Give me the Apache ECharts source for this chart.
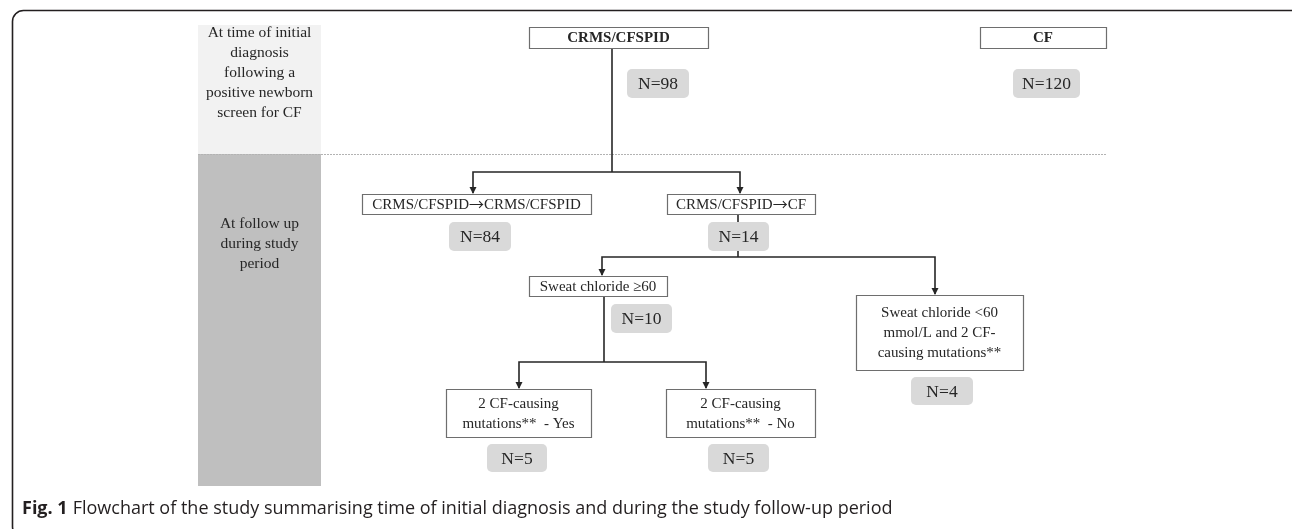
<!DOCTYPE html>
<html><head><meta charset="utf-8">
<script src="https://cdn.jsdelivr.net/npm/echarts@6/dist/echarts.min.js"></script>
<style>html,body{margin:0;padding:0;background:#fff}#c{width:1292px;height:529px}</style>
</head><body><div id="c"></div>
<script>
// ---------------- data ----------------
const phaseLabels = [
  'At time of initial\ndiagnosis\nfollowing a\npositive newborn\nscreen for CF',
  'At follow up\nduring study\nperiod'
];
const nodeLabels = [
  'CRMS/CFSPID',
  'CF',
  'CRMS/CFSPID{a|\u2192}CRMS/CFSPID',
  'CRMS/CFSPID{a|\u2192}CF',
  'Sweat chloride \u226560',
  'Sweat chloride <60\nmmol/L and 2 CF-\ncausing mutations**',
  '2 CF-causing\nmutations**  - Yes',
  '2 CF-causing\nmutations**  - No'
];
const nodeBold = [true, true, false, false, false, false, false, false];
const nodeCounts = [98, 120, 84, 14, 10, 4, 5, 5];
const captionLead = 'Fig. 1';
const captionText = 'Flowchart of the study summarising time of initial diagnosis and during the study follow-up period';

// ---------------- layout (canvas pixel space, 1292 x 529) ----------------
const phaseBoxes = [[198, 25, 321, 154], [198, 154, 321, 486]];
const phaseColors = ['#f2f2f2', '#bfbfbf'];
const phaseTextY = [73, 244];
const nodeBoxes = [
  [529, 27, 708, 48],
  [980, 27, 1106, 48],
  [362, 194, 591, 214],
  [667, 194, 815, 214],
  [529, 276, 667, 296],
  [856, 295, 1023, 370],
  [446, 389, 591, 437],
  [666, 389, 815, 437]
];
const countBoxes = [
  [627, 69, 689, 98],
  [1013, 69, 1080, 98],
  [449, 222, 511, 251],
  [708, 222, 769, 251],
  [611, 304, 672, 333],
  [911, 377, 973, 405],
  [487, 444, 547, 472],
  [708, 444, 769, 472]
];
const connectors = [
  {pts: [[612, 48], [612, 172]], arrow: false},
  {pts: [[612, 172], [473, 172], [473, 193]], arrow: true},
  {pts: [[612, 172], [740, 172], [740, 193]], arrow: true},
  {pts: [[738, 214], [738, 257]], arrow: false},
  {pts: [[738, 257], [602, 257], [602, 275]], arrow: true},
  {pts: [[738, 257], [935, 257], [935, 294]], arrow: true},
  {pts: [[604, 296], [604, 362]], arrow: false},
  {pts: [[604, 362], [519, 362], [519, 388]], arrow: true},
  {pts: [[604, 362], [706, 362], [706, 388]], arrow: true}
];
const dividerY = 154, dividerX = [198, 1106];

const SERIF = '"Liberation Serif", "Times New Roman", serif';

const chart = echarts.init(document.getElementById('c'), null, {renderer: 'canvas'});

function rectOf(api, b) {
  const p1 = api.coord([b[0], b[1]]), p2 = api.coord([b[2], b[3]]);
  return {x: p1[0], y: p1[1], width: p2[0] - p1[0], height: p2[1] - p1[1]};
}

chart.setOption({
  animation: false,
  backgroundColor: '#ffffff',
  grid: {left: 0, right: 0, top: 0, bottom: 0},
  xAxis: {type: 'value', min: 0, max: 1292, show: false},
  yAxis: {type: 'value', min: 0, max: 529, inverse: true, show: false},
  title: {
    left: 17, top: 495,
    text: '{b|' + captionLead + '} {r|' + captionText + '}',
    textStyle: {
      fontWeight: 'normal',
      rich: {
        b: {fontFamily: '"Open Sans", sans-serif', fontWeight: 'bold', fontSize: 18, color: '#231f20'},
        r: {fontFamily: '"Open Sans", sans-serif', fontWeight: 'normal', fontSize: 18, color: '#231f20'}
      }
    }
  },
  graphic: [{
    type: 'rect', left: 10, top: 8, silent: true,
    shape: {width: 1290, height: 527, r: 11},
    style: {fill: 'none', stroke: '#231f20', lineWidth: 1.6}
  }],
  series: [
    {
      type: 'custom', name: 'phases', silent: true,
      data: phaseLabels.map((_, i) => [i, 0]),
      renderItem: (params, api) => {
        const i = params.dataIndex;
        const r = rectOf(api, phaseBoxes[i]);
        const ty = api.coord([0, phaseTextY[i]])[1];
        return {type: 'group', children: [
          {type: 'rect', shape: r, style: {fill: phaseColors[i]}},
          {type: 'text', style: {text: phaseLabels[i], x: r.x + r.width / 2, y: ty,
            align: 'center', verticalAlign: 'middle', font: '15.5px ' + SERIF,
            fill: '#262626', lineHeight: 20}}
        ]};
      }
    },
    {
      type: 'custom', name: 'divider', silent: true,
      data: [[0, 0]],
      renderItem: (params, api) => {
        const a = api.coord([dividerX[0], dividerY]), b = api.coord([dividerX[1], dividerY]);
        return {type: 'line', shape: {x1: a[0], y1: a[1] + 0.5, x2: b[0], y2: b[1] + 0.5},
          style: {stroke: '#b3b3b3', lineWidth: 1, lineDash: [2, 1]}};
      }
    },
    {
      type: 'custom', name: 'connectors', silent: true,
      data: connectors.map((_, i) => [i, 0]),
      renderItem: (params, api) => {
        const c = connectors[params.dataIndex];
        const pts = c.pts.map(p => api.coord(p));
        const children = [{type: 'polyline', shape: {points: pts},
          style: {stroke: '#262626', lineWidth: 1.6, fill: null}}];
        if (c.arrow) {
          const e = pts[pts.length - 1];
          children.push({type: 'polygon', shape: {points: [[e[0] - 3.5, e[1] - 6], [e[0] + 3.5, e[1] - 6], [e[0], e[1] + 1]]},
            style: {fill: '#262626'}});
        }
        return {type: 'group', children: children};
      }
    },
    {
      type: 'custom', name: 'nodes', silent: true,
      data: nodeLabels.map((_, i) => [i, 0]),
      renderItem: (params, api) => {
        const i = params.dataIndex;
        const r = rectOf(api, nodeBoxes[i]);
        const font = (nodeBold[i] ? 'bold ' : '') + '15px ' + SERIF;
        return {type: 'group', children: [
          {type: 'rect', shape: {x: r.x + 0.5, y: r.y + 0.5, width: r.width, height: r.height},
            style: {fill: '#ffffff', stroke: '#6e6e6e', lineWidth: 1.2}},
          {type: 'text', style: {text: nodeLabels[i], x: r.x + r.width / 2, y: r.y + r.height / 2 + 1,
            align: 'center', verticalAlign: 'middle', font: font,
            fill: '#262626', lineHeight: 20,
            rich: {a: {fontFamily: '"Noto Sans CJK JP", sans-serif', fontSize: 15, fill: '#262626', padding: [0, 0, 1, 0]}}}}
        ]};
      }
    },
    {
      type: 'custom', name: 'counts', silent: true,
      data: nodeCounts.map((v, i) => [i, v]),
      renderItem: (params, api) => {
        const i = params.dataIndex;
        const r = rectOf(api, countBoxes[i]);
        return {type: 'group', children: [
          {type: 'rect', shape: {x: r.x, y: r.y, width: r.width, height: r.height, r: 5},
            style: {fill: '#d9d9d9'}},
          {type: 'text', style: {text: 'N=' + nodeCounts[i], x: r.x + r.width / 2, y: r.y + r.height / 2 + 1,
            align: 'center', verticalAlign: 'middle', font: '17.5px ' + SERIF, fill: '#262626'}}
        ]};
      }
    }
  ]
});
</script>
</body></html>
